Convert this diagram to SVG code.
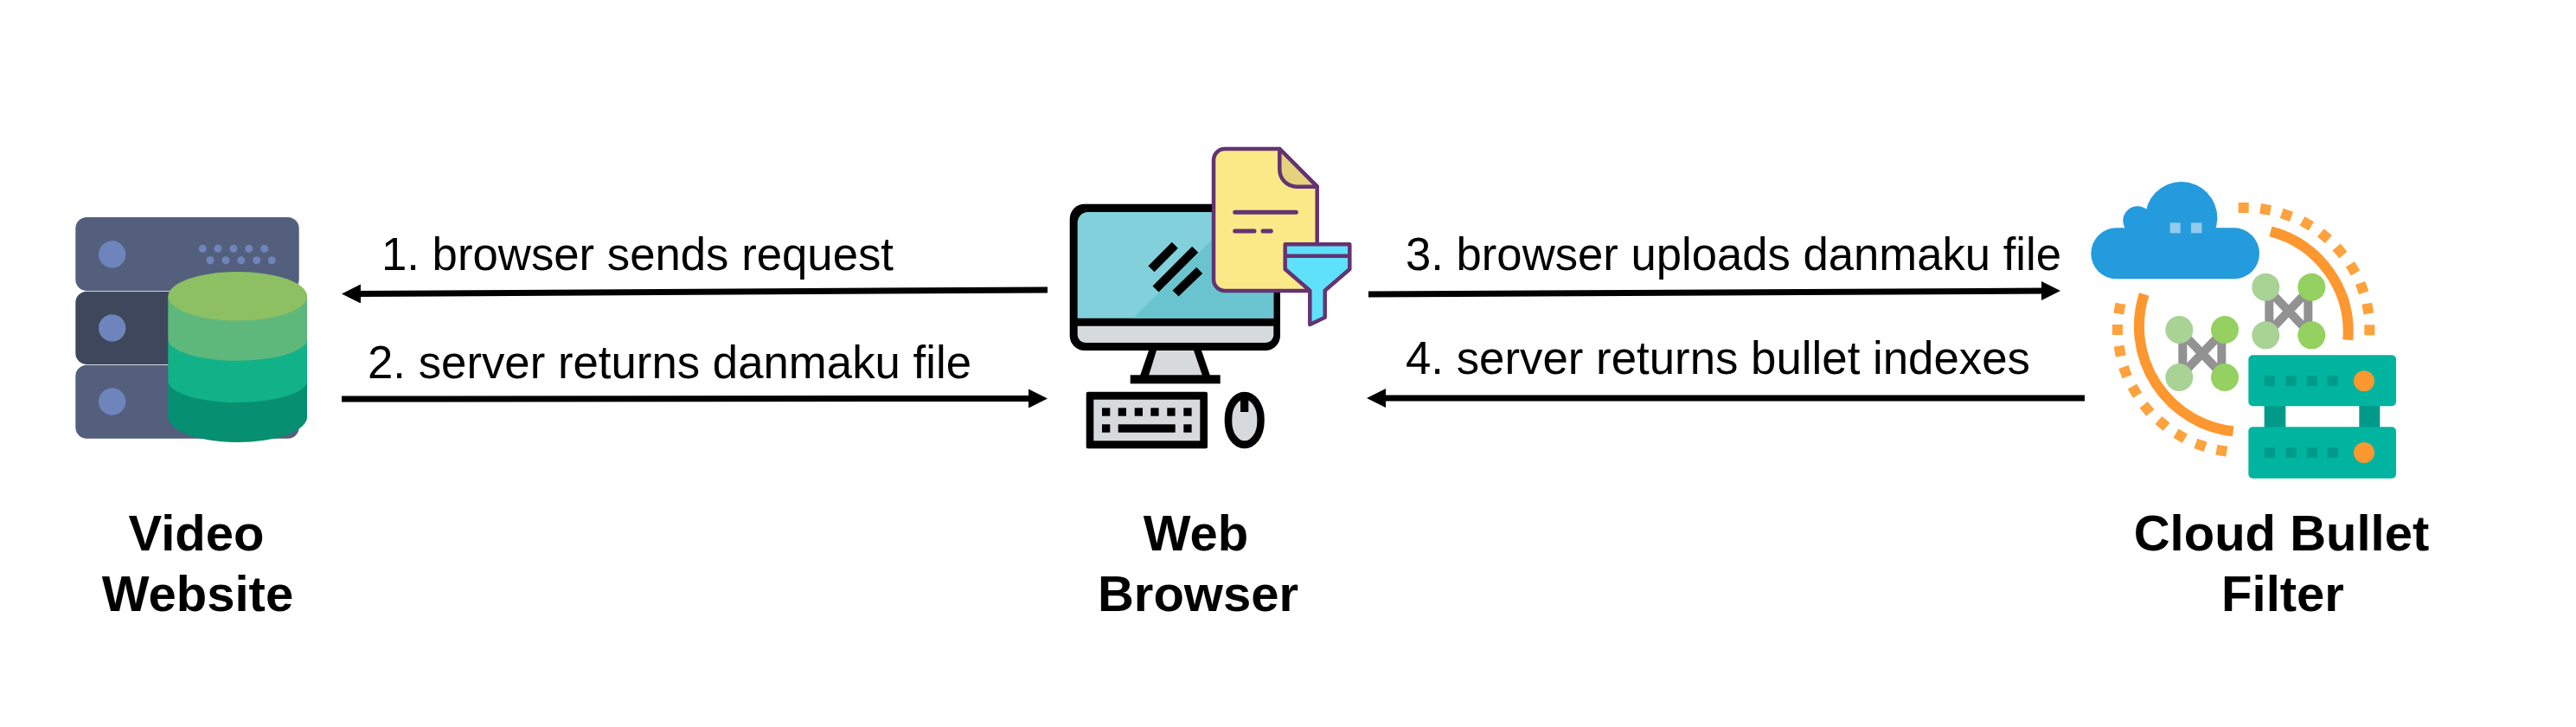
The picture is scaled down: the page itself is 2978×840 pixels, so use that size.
<svg xmlns="http://www.w3.org/2000/svg" width="2978" height="840" viewBox="0 0 2978 840">
<style>
text{font-family:"Liberation Sans",Arial,sans-serif;fill:#000}
.lbl{font-size:53px}
.ttl{font-size:58px;font-weight:700;text-anchor:middle}
.arr{fill:none;stroke:#000;stroke-width:7;marker-end:url(#ah)}
.srv{fill:#535f7d}.led{fill:#6e84bc}
.k{fill:#000}.g{fill:#d7dadd}
.doc{stroke:#633372;stroke-width:4.5;stroke-linejoin:round}
.dl{stroke:#633372;stroke-width:5;stroke-linecap:round;fill:none}
.d{fill:#fda23c}
.net{stroke:#929292;stroke-width:30;fill:none}
.la{fill:#a9d295}.ra{fill:#94d160}
.t{fill:#00b4a0}.dk{fill:#009a8b}.oc{fill:#fd9730}
</style>
<defs>
<marker id="ah" markerUnits="userSpaceOnUse" markerWidth="22" markerHeight="22" refX="7" refY="11" orient="auto"><path d="M0 0L22 11L0 22z" fill="#000"/></marker>
<rect id="dot" x="-18" y="-18" width="36" height="36" class="d"/>
</defs>
<rect width="2978" height="840" fill="#fff"/>
<g id="connectors">
<line class="arr" x1="1211" y1="335" x2="410" y2="339.500"/>
<line class="arr" x1="395" y1="461" x2="1196" y2="460.500"/>
<line class="arr" x1="1582" y1="340" x2="2367" y2="336"/>
<line class="arr" x1="2410" y1="460" x2="1595" y2="460"/>
<text class="lbl" x="441" y="312" textLength="592" lengthAdjust="spacingAndGlyphs">1. browser sends request</text>
<text class="lbl" x="425" y="437" textLength="698" lengthAdjust="spacingAndGlyphs">2. server returns danmaku file</text>
<text class="lbl" x="1625" y="312" textLength="758" lengthAdjust="spacingAndGlyphs">3. browser uploads danmaku file</text>
<text class="lbl" x="1625" y="432" textLength="722" lengthAdjust="spacingAndGlyphs">4. server returns bullet indexes</text>
</g>
<g id="video-website">
<rect class="srv" x="87.3" y="251" width="258.4" height="85" rx="13"/>
<rect x="87.3" y="336.7" width="258.4" height="84.3" rx="13" fill="#3e475c"/>
<rect class="srv" x="87.3" y="421.7" width="258.4" height="85" rx="13"/>
<circle class="led" cx="129.7" cy="294" r="15.7"/><circle class="led" cx="129.7" cy="379" r="15.7"/><circle class="led" cx="129.7" cy="464" r="15.7"/>
<g class="led">
<circle cx="234.3" cy="287.3" r="4.5"/><circle cx="252" cy="287.3" r="4.5"/><circle cx="270" cy="287.3" r="4.5"/><circle cx="287.7" cy="287.3" r="4.5"/><circle cx="305.7" cy="287.3" r="4.5"/>
<circle cx="243" cy="300.7" r="4.5"/><circle cx="261" cy="300.7" r="4.5"/><circle cx="278.7" cy="300.7" r="4.5"/><circle cx="296.7" cy="300.7" r="4.5"/><circle cx="314.3" cy="300.7" r="4.5"/>
</g>
<path d="M194.3 440V481.7A80.3 29.3 0 0 0 355 481.7V440z" fill="#068f70"/>
<path d="M194.3 391.7V440A80.3 25 0 0 0 355 440V391.7z" fill="#12b288"/>
<path d="M194.3 342.3V391.7A80.3 25 0 0 0 355 391.7V342.3z" fill="#5fb87b"/>
<ellipse cx="274.7" cy="342.3" rx="80.3" ry="28.3" fill="#8cc063"/>
<text class="ttl" x="227" y="636">Video</text>
<text class="ttl" x="228.500" y="706">Website</text>
</g>
<g id="web-browser">
<rect class="k" x="1236.700" y="235.700" width="243.300" height="169.300" rx="17"/>
<path d="M1245.700 367.700V257a12 12 0 0 1 12-12H1472.300V367.700z" fill="#82d0db"/>
<path d="M1310 367.700L1403 275H1472.300V367.700z" fill="#6ac4d0"/>
<path d="M1245.700 376.700H1472.300V387a9 9 0 0 1-9 9H1254.700a9 9 0 0 1-9-9z" class="g"/>
<path class="k" d="M1328 405L1318 434H1399L1389 405z"/>
<path class="g" d="M1337 405L1328 434H1390L1380 405z"/>
<rect class="k" x="1306.700" y="433.300" width="104" height="10"/>
<g stroke="#000" stroke-width="10"><line x1="1331" y1="310.700" x2="1358.300" y2="283.300"/><line x1="1336" y1="334" x2="1381.700" y2="288.300"/><line x1="1359" y1="339" x2="1386.700" y2="312.300"/></g>
<rect class="k" x="1255.700" y="452.700" width="140.300" height="65.600" rx="2"/>
<rect class="g" x="1264.300" y="461.700" width="123" height="47.600"/>
<g class="k">
<rect x="1274" y="471.300" width="9.300" height="9.400"/><rect x="1292.700" y="471.300" width="9.300" height="9.400"/><rect x="1311.700" y="471.300" width="9.300" height="9.400"/><rect x="1330.300" y="471.300" width="9.300" height="9.400"/><rect x="1349.300" y="471.300" width="9.300" height="9.400"/><rect x="1368.300" y="471.300" width="9.300" height="9.400"/>
<rect x="1274" y="490.300" width="9.300" height="9.400"/><rect x="1292.700" y="490.300" width="66" height="9.400"/><rect x="1368.300" y="490.300" width="9.300" height="9.400"/>
</g>
<rect class="k" x="1415.700" y="452.700" width="46" height="65.600" rx="23" ry="31"/>
<rect class="g" x="1424.300" y="461.700" width="29" height="47.600" rx="14.500" ry="22"/>
<rect class="k" x="1434" y="461" width="9.300" height="15"/>
<path class="doc" fill="#fbe988" d="M1416 172H1479.300L1522.700 215.700V336H1416a13 13 0 0 1-13-13V185a13 13 0 0 1 13-13z"/>
<path class="doc" fill="#e5d27e" d="M1479.300 172L1522.700 215.700H1499a19.700 19.700 0 0 1-19.700-19.700z"/>
<path class="dl" d="M1427.700 245.300H1498.300M1427.700 267H1450M1460 267H1469.300"/>
<path class="doc" fill="#5fe1fc" d="M1485.700 282.300H1560.300V311L1531.700 335.700V366.700L1514.300 375V335.700L1485.700 311zM1485.700 295.700H1560.300"/>
<text class="ttl" x="1382.500" y="636">Web</text>
<text class="ttl" x="1385" y="706">Browser</text>
</g>
<g id="cloud-bullet-filter">
<g transform="translate(2400 190) scale(.33333)">
<g fill="#249bdd"><rect x="52" y="220" width="584" height="177" rx="88"/><circle cx="365" cy="185" r="125"/><circle cx="213" cy="195" r="50"/></g>
<rect x="326" y="202" width="36" height="36" fill="#93cbee"/><rect x="399" y="202" width="37" height="36" fill="#93cbee"/>
<path d="M675 232A360 360 0 0 1 943 608M236 450A366 366 0 0 0 545 925" style="fill:none;stroke:#fd9730;stroke-width:36"/>
<use href="#dot" transform="translate(581 150)"/><use href="#dot" transform="translate(657 156) rotate(10)"/><use href="#dot" transform="translate(730 175) rotate(20)"/><use href="#dot" transform="translate(800 205) rotate(30)"/><use href="#dot" transform="translate(862 248) rotate(40)"/><use href="#dot" transform="translate(915 300) rotate(50)"/><use href="#dot" transform="translate(960 361) rotate(60)"/><use href="#dot" transform="translate(992 428) rotate(70)"/><use href="#dot" transform="translate(1012 500) rotate(80)"/><use href="#dot" transform="translate(1018 574)"/>
<use href="#dot" transform="translate(151 500) rotate(10)"/><use href="#dot" transform="translate(144 573)"/><use href="#dot" transform="translate(152 647) rotate(-10)"/><use href="#dot" transform="translate(171 719) rotate(-20)"/><use href="#dot" transform="translate(204 785) rotate(-30)"/><use href="#dot" transform="translate(246 847) rotate(-40)"/><use href="#dot" transform="translate(300 898) rotate(-50)"/><use href="#dot" transform="translate(362 941) rotate(-60)"/><use href="#dot" transform="translate(432 973) rotate(-70)"/><use href="#dot" transform="translate(505 992) rotate(-80)"/>
<path class="net" d="M670 425V592M805 425V592M658 592L817 425M658 425L817 592"/>
<circle class="la" cx="658" cy="425" r="48"/><circle class="ra" cx="817" cy="425" r="48"/><circle class="la" cx="658" cy="592" r="48"/><circle class="ra" cx="817" cy="592" r="48"/>
<path class="net" d="M370 573V738M505 573V738M358 738L516 573M358 573L516 738"/>
<circle class="la" cx="358" cy="573" r="48"/><circle class="ra" cx="516" cy="573" r="48"/><circle class="la" cx="358" cy="738" r="48"/><circle class="ra" cx="516" cy="738" r="48"/>
<rect class="dk" x="653" y="830" width="74" height="90"/><rect class="dk" x="982" y="830" width="72" height="90"/>
<rect class="t" x="598" y="661" width="512" height="177" rx="15"/><rect class="t" x="598" y="910" width="512" height="178" rx="15"/>
<g class="dk"><rect x="653" y="733" width="37" height="35"/><rect x="727" y="733" width="37" height="35"/><rect x="800" y="733" width="37" height="35"/><rect x="872" y="733" width="37" height="35"/>
<rect x="653" y="981" width="37" height="36"/><rect x="727" y="981" width="37" height="36"/><rect x="800" y="981" width="37" height="36"/><rect x="872" y="981" width="37" height="36"/></g>
<circle class="oc" cx="999" cy="751" r="36"/><circle class="oc" cx="999" cy="999" r="36"/>
</g>
<text class="ttl" x="2637.500" y="636">Cloud Bullet</text>
<text class="ttl" x="2639" y="706">Filter</text>
</g>
</svg>
